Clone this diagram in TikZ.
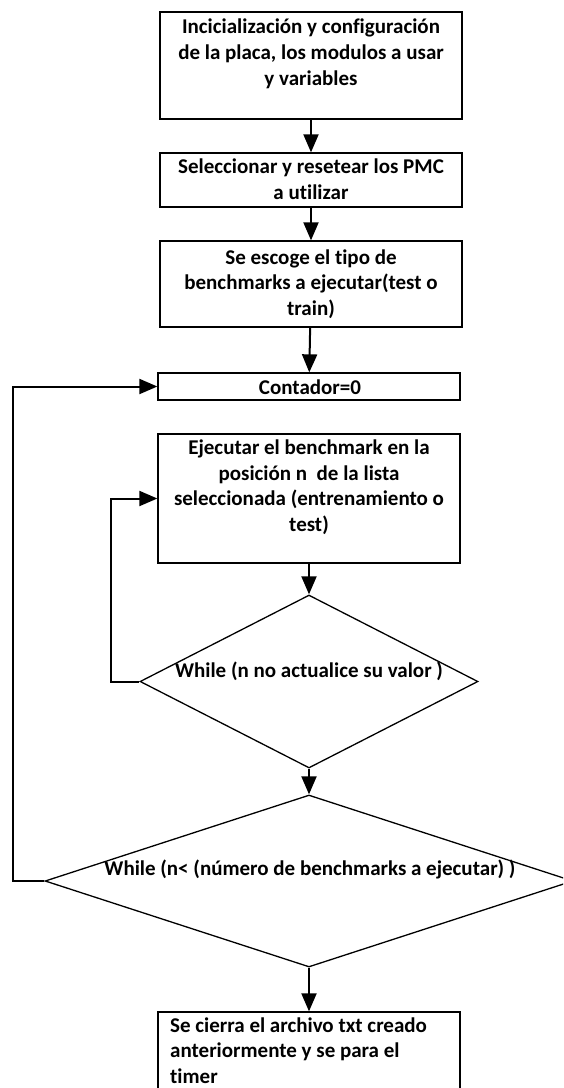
\documentclass[tikz,border=0pt]{standalone}
\usepackage{fontspec}
\setmainfont{Carlito}[Ligatures=NoCommon]
\usetikzlibrary{shapes.geometric,arrows.meta}
\begin{document}
\begin{tikzpicture}[x=1pt,y=-1pt,
  stepbox/.style={draw,line width=1.3pt,rectangle,inner sep=0pt},
  decision/.style={draw,line width=1.3pt,diamond,inner sep=0pt},
  lbl/.style={inner sep=0pt,align=center,font=\fontsize{21}{25.5}\selectfont\bfseries},
  conn/.style={line width=2pt,-{Triangle[length=18pt,width=15pt]}},
  loopline/.style={line width=2pt,-{Triangle[length=18pt,width=15pt]}}]
\clip (0,0) rectangle (563,1088);
\fill[white] (0,0) rectangle (563,1088);

% boxes of the flow
\node[stepbox,minimum width=302pt,minimum height=107pt] (b1) at (311,65.5) {};
\node[stepbox,minimum width=302pt,minimum height=54pt]  (b2) at (311,180) {};
\node[stepbox,minimum width=302pt,minimum height=86pt]  (b3) at (311,284) {};
\node[stepbox,minimum width=302pt,minimum height=27pt]  (cont) at (309,386.5) {};
\node[stepbox,minimum width=302pt,minimum height=129pt] (ejec) at (309,498.5) {};
\node[decision,minimum width=338pt,minimum height=173pt] (d1) at (309,681.5) {};
\node[decision,minimum width=528pt,minimum height=172pt] (d2) at (309,881) {};
\node[stepbox,minimum width=302pt,minimum height=88pt]  (fin) at (309,1056) {};

% texts (base anchor = baseline of the last line)
\node[lbl,anchor=base,font=\fontsize{21}{26}\selectfont\bfseries] (t1) at (311,85)
  {Incicialización y configuración\\de la placa, los modulos a usar\\y variables};
\node[lbl,anchor=base] (t2) at (311,199) {Seleccionar y resetear los PMC\\a utilizar};
\node[lbl,anchor=base] (t3) at (311,315) {Se escoge el tipo de\\benchmarks a ejecutar(test o\\train)};
\node[lbl,anchor=base] (tc) at (310,394) {Contador=0};
\node[lbl,anchor=base] (te) at (309,531)
  {Ejecutar el benchmark en la\\posición n\ \ de la lista\\seleccionada (entrenamiento o\\test)};
\node[lbl,anchor=base] (td1) at (309,677) {While (n no actualice su valor )};
\node[lbl,anchor=base] (td2) at (310,875) {While (n< (número de benchmarks a ejecutar) )};
\node[lbl,anchor=base west,align=left] (tf) at (170,1083)
  {Se cierra el archivo txt creado\\anteriormente y se para el\\timer};

% connectors
\draw[conn] (b1) -- (b2);
\draw[conn] (b2) -- (b3);
\draw[conn] (b3) -- (cont);
\draw[conn] (ejec) -- (d1);
\draw[conn] (d1) -- (d2);
\draw[conn] (d2) -- (fin);
\draw[loopline] (d1.west) -- ++(-28,0) |- (ejec.west);
\draw[loopline] (d2.west) -- ++(-31,0) |- (cont.west);
\end{tikzpicture}
\end{document}
